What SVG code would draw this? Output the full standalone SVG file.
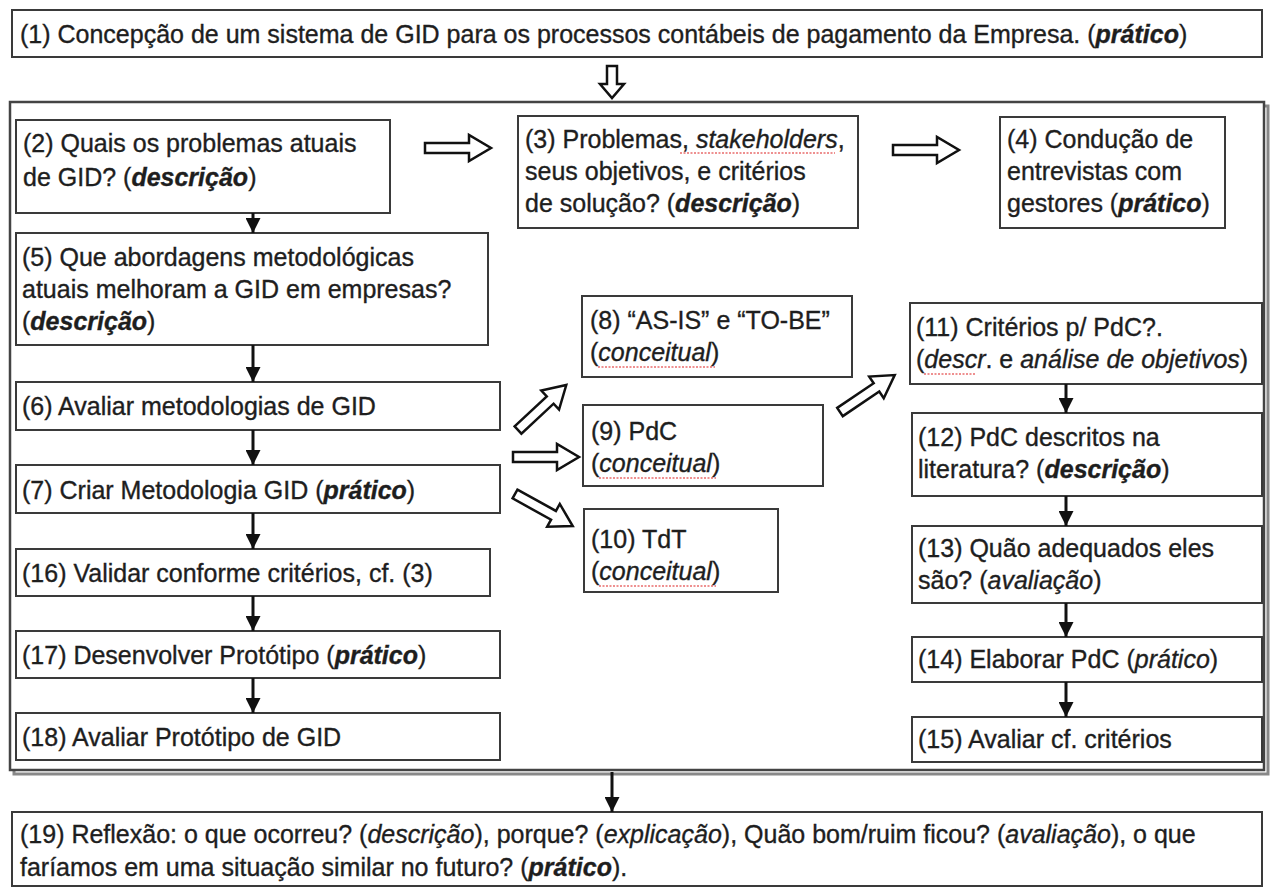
<svg xmlns="http://www.w3.org/2000/svg" width="1274" height="890" viewBox="0 0 1274 890">
<style>
.box{fill:#fff;stroke:#3a3a3a;stroke-width:2}
.t{font-family:"Liberation Sans",Arial,sans-serif;font-size:25px;fill:#1e1e1e;stroke:#1e1e1e;stroke-width:0.35}
.b{font-weight:bold;font-style:italic}
.i{font-style:italic}
.con{stroke:#111;stroke-width:3;fill:none}
.hol{fill:#fff;stroke:#111;stroke-width:2.5;stroke-linejoin:miter}
.sp{fill:none;stroke:#d22;stroke-width:1.2;stroke-dasharray:2 1.5}
</style>
<defs>
<marker id="ah" viewBox="0 0 12 12" refX="12" refY="6" markerWidth="15" markerHeight="15" markerUnits="userSpaceOnUse" orient="auto">
<path d="M0,0 L12,6 L0,12 z" fill="#111"/>
</marker>
<path id="ha" d="M0,-5 L44,-5 L44,-13 L66,0 L44,13 L44,5 L0,5 Z"/>
</defs>
<rect width="1274" height="890" fill="#fff"/>

<g id="outer">
<rect x="14" y="106" width="1254" height="668" fill="none" stroke="#888" stroke-width="3"/>
<rect x="10" y="102" width="1254" height="668" fill="#fff" stroke="#444" stroke-width="2.5"/>
</g>

<g id="n1">
<rect class="box" x="12" y="10" width="1250" height="47"/>
<text class="t" x="20" y="43">(1) Concepção de um sistema de GID para os processos contábeis de pagamento da Empresa. (<tspan class="b">prático</tspan>)</text>
</g>
<g id="n2">
<rect class="box" x="16" y="120" width="374" height="93"/>
<text class="t" x="23" y="152">(2) Quais os problemas atuais</text>
<text class="t" x="23" y="186">de GID? (<tspan class="b">descrição</tspan>)</text>
</g>
<g id="n3">
<rect class="box" x="518" y="116" width="340" height="112"/>
<text class="t" x="525" y="148">(3) Problemas, <tspan class="i">stakeholders</tspan>,</text>
<text class="t" x="525" y="180">seus objetivos, e critérios</text>
<text class="t" x="525" y="212">de solução? (<tspan class="b">descrição</tspan>)</text>
<path class="sp" d="M680,153 L835,153"/>
</g>
<g id="n4">
<rect class="box" x="1000" y="117" width="225" height="111"/>
<text class="t" x="1007" y="148">(4) Condução de</text>
<text class="t" x="1007" y="180">entrevistas com</text>
<text class="t" x="1007" y="212">gestores (<tspan class="b">prático</tspan>)</text>
</g>
<g id="n5">
<rect class="box" x="16" y="233" width="472" height="112"/>
<text class="t" x="22" y="266">(5) Que abordagens metodológicas</text>
<text class="t" x="22" y="298">atuais melhoram a GID em empresas?</text>
<text class="t" x="22" y="330">(<tspan class="b">descrição</tspan>)</text>
</g>
<g id="n6">
<rect class="box" x="16" y="382" width="484" height="48"/>
<text class="t" x="22" y="415">(6) Avaliar metodologias de GID</text>
</g>
<g id="n7">
<rect class="box" x="16" y="465" width="484" height="48"/>
<text class="t" x="22" y="499">(7) Criar Metodologia GID (<tspan class="b">prático</tspan>)</text>
</g>
<g id="n16">
<rect class="box" x="16" y="549" width="474" height="47"/>
<text class="t" x="22" y="582">(16) Validar conforme critérios, cf. (3)</text>
</g>
<g id="n17">
<rect class="box" x="16" y="631" width="484" height="47"/>
<text class="t" x="22" y="664">(17) Desenvolver Protótipo (<tspan class="b">prático</tspan>)</text>
</g>
<g id="n18">
<rect class="box" x="16" y="713" width="484" height="47"/>
<text class="t" x="22" y="746">(18) Avaliar Protótipo de GID</text>
</g>
<g id="n8">
<rect class="box" x="582" y="296" width="270" height="81"/>
<text class="t" x="590" y="329">(8) “AS-IS” e “TO-BE”</text>
<text class="t" x="590" y="361">(<tspan class="i">conceitual</tspan>)</text>
<path class="sp" d="M598,367 L715,367"/>
</g>
<g id="n9">
<rect class="box" x="583" y="405" width="240" height="81"/>
<text class="t" x="591" y="440">(9) PdC</text>
<text class="t" x="591" y="472">(<tspan class="i">conceitual</tspan>)</text>
<path class="sp" d="M599,478 L716,478"/>
</g>
<g id="n10">
<rect class="box" x="584" y="509" width="194" height="83"/>
<text class="t" x="591" y="548">(10) TdT</text>
<text class="t" x="591" y="580">(<tspan class="i">conceitual</tspan>)</text>
<path class="sp" d="M599,586 L716,586"/>
</g>
<g id="n11">
<rect class="box" x="910" y="303" width="352" height="81"/>
<text class="t" x="916" y="336">(11) Critérios p/ PdC?.</text>
<text class="t" x="916" y="368">(<tspan class="i">descr</tspan>. e <tspan class="i">análise de objetivos</tspan>)</text>
<path class="sp" d="M924,374 L976,374"/>
</g>
<g id="n12">
<rect class="box" x="912" y="413" width="350" height="83"/>
<text class="t" x="918" y="446">(12) PdC descritos na</text>
<text class="t" x="918" y="478">literatura? (<tspan class="b">descrição</tspan>)</text>
</g>
<g id="n13">
<rect class="box" x="912" y="526" width="350" height="77"/>
<text class="t" x="918" y="557">(13) Quão adequados eles</text>
<text class="t" x="918" y="589">são? (<tspan class="i">avaliação</tspan>)</text>
</g>
<g id="n14">
<rect class="box" x="912" y="637" width="350" height="45"/>
<text class="t" x="918" y="668">(14) Elaborar PdC (<tspan class="i">prático</tspan>)</text>
</g>
<g id="n15">
<rect class="box" x="912" y="717" width="350" height="45"/>
<text class="t" x="918" y="748">(15) Avaliar cf. critérios</text>
</g>
<g id="n19">
<rect class="box" x="12" y="812" width="1250" height="74"/>
<text class="t" x="20" y="843">(19) Reflexão: o que ocorreu? (<tspan class="i">descrição</tspan>), porque? (<tspan class="i">explicação</tspan>), Quão bom/ruim ficou? (<tspan class="i">avaliação</tspan>), o que</text>
<text class="t" x="20" y="876">faríamos em uma situação similar no futuro? (<tspan class="b">prático</tspan>).</text>
</g>

<g id="connectors">
<path class="hol" d="M607,66 L617,66 L617,84 L624,84 L612,98 L600,84 L607,84 Z"/>
<use href="#ha" class="hol" transform="translate(425,148)"/>
<use href="#ha" class="hol" transform="translate(893,150)"/>
<use href="#ha" class="hol" transform="translate(518,430) rotate(-43)"/>
<use href="#ha" class="hol" transform="translate(513,457)"/>
<use href="#ha" class="hol" transform="translate(515,494) rotate(29)"/>
<use href="#ha" class="hol" transform="translate(840,412) rotate(-34)"/>
<line class="con" x1="253" y1="213" x2="253" y2="233" marker-end="url(#ah)"/>
<line class="con" x1="253" y1="345" x2="253" y2="382" marker-end="url(#ah)"/>
<line class="con" x1="253" y1="430" x2="253" y2="465" marker-end="url(#ah)"/>
<line class="con" x1="253" y1="513" x2="253" y2="549" marker-end="url(#ah)"/>
<line class="con" x1="253" y1="596" x2="253" y2="631" marker-end="url(#ah)"/>
<line class="con" x1="253" y1="678" x2="253" y2="713" marker-end="url(#ah)"/>
<line class="con" x1="1066" y1="384" x2="1066" y2="413" marker-end="url(#ah)"/>
<line class="con" x1="1066" y1="496" x2="1066" y2="526" marker-end="url(#ah)"/>
<line class="con" x1="1066" y1="603" x2="1066" y2="637" marker-end="url(#ah)"/>
<line class="con" x1="1066" y1="682" x2="1066" y2="717" marker-end="url(#ah)"/>
<line class="con" x1="612" y1="772" x2="612" y2="812" marker-end="url(#ah)"/>
</g>
</svg>
